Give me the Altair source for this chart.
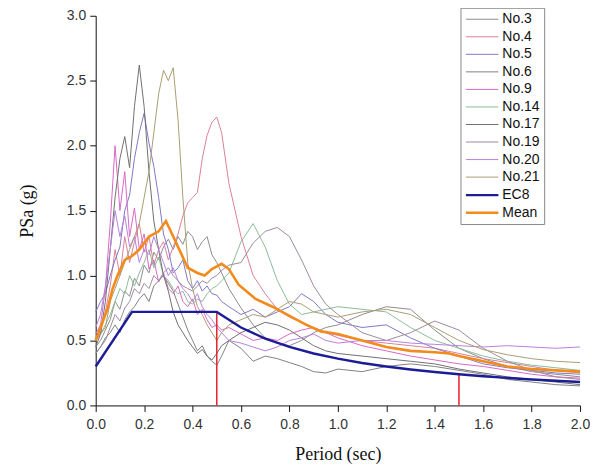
import altair as alt
import pandas as pd

# ---------------- data ----------------
PERIOD = [0.0, 0.02, 0.04, 0.06, 0.08, 0.10, 0.12, 0.14, 0.16, 0.18, 0.20, 0.22, 0.24,
          0.26, 0.28, 0.30, 0.32, 0.34, 0.36, 0.38, 0.40, 0.42, 0.44, 0.46, 0.48, 0.50,
          0.52, 0.55, 0.60, 0.65, 0.70, 0.75, 0.80, 0.85, 0.90, 0.95, 1.00,
          1.10, 1.20, 1.30, 1.40, 1.50, 1.60, 1.70, 1.80, 1.90, 2.00]

NO3 = [0.45, 0.50, 0.58, 0.66, 0.80, 0.74, 0.88, 0.84, 0.98, 0.92, 1.08, 1.02, 1.18, 1.12,
       1.22, 1.28, 1.20, 1.30, 1.24, 1.34, 1.30, 1.20, 1.26, 1.30, 1.16, 1.10,
       1.02, 0.90, 0.75, 0.62, 0.52, 0.48, 0.46, 0.50, 0.56, 0.60, 0.62,
       0.70, 0.76, 0.74, 0.58, 0.44, 0.36, 0.30, 0.26, 0.24, 0.22]
NO4 = [0.50, 0.56, 0.72, 0.92, 1.20, 1.00, 1.30, 1.10, 1.26, 1.40, 1.18, 1.30, 1.08, 1.20,
       1.26, 1.12, 1.22, 1.32, 1.46, 1.56, 1.60, 1.64, 1.90, 2.08, 2.18, 2.22,
       2.10, 1.71, 1.30, 1.00, 0.86, 0.74, 0.68, 0.64, 0.60, 0.56, 0.54,
       0.50, 0.48, 0.46, 0.44, 0.40, 0.36, 0.33, 0.30, 0.27, 0.25]
NO5 = [0.72, 0.80, 0.86, 1.00, 1.12, 1.22, 1.50, 1.62, 1.90, 2.10, 2.25, 2.02, 1.84, 1.60,
       1.32, 1.20, 1.02, 1.06, 1.12, 0.96, 0.90, 0.96, 0.88, 0.92, 0.86, 0.85,
       0.80, 0.76, 0.70, 0.74, 0.68, 0.72, 0.76, 0.86, 0.80, 0.70, 0.64,
       0.60, 0.62, 0.52, 0.44, 0.38, 0.32, 0.29, 0.27, 0.25, 0.24]
NO6 = [0.40, 0.45, 0.52, 0.56, 0.62, 0.56, 0.66, 0.72, 0.76, 0.82, 0.86, 0.80, 0.92, 0.96,
       1.00, 0.94, 0.88, 0.78, 0.68, 0.58, 0.50, 0.42, 0.46, 0.38, 0.34, 0.31,
       0.38, 0.50, 0.44, 0.34, 0.38, 0.36, 0.33, 0.30, 0.26, 0.25, 0.28,
       0.26, 0.30, 0.32, 0.30, 0.27, 0.24, 0.20, 0.18, 0.16, 0.15]
NO9 = [0.55, 0.62, 0.90, 1.40, 2.00, 1.50, 1.80, 1.30, 1.52, 1.20, 1.32, 1.05, 1.12, 0.95,
       1.02, 0.90, 0.86, 0.92, 0.80, 0.76, 0.82, 0.70, 0.74, 0.66, 0.60, 0.62,
       0.58, 0.60, 0.55, 0.50, 0.52, 0.50, 0.55, 0.58, 0.60, 0.56, 0.52,
       0.46, 0.42, 0.38, 0.35, 0.32, 0.30, 0.27, 0.24, 0.22, 0.21]
NO14 = [0.50, 0.55, 0.62, 0.70, 0.80, 0.90, 0.86, 1.00, 0.92, 1.02, 1.10, 1.20, 1.06, 1.14,
        1.00, 0.96, 0.90, 0.86, 0.88, 0.80, 0.78, 0.82, 0.80, 0.86, 0.90, 0.92,
        0.96, 1.02, 1.26, 1.40, 1.22, 0.96, 0.78, 0.70, 0.72, 0.74, 0.76,
        0.74, 0.72, 0.60, 0.50, 0.44, 0.38, 0.34, 0.31, 0.29, 0.27]
NO17 = [0.45, 0.55, 0.80, 1.20, 1.60, 1.90, 2.07, 1.83, 2.30, 2.62, 2.30, 1.80, 1.42, 1.20,
        1.00, 0.88, 0.72, 0.62, 0.56, 0.50, 0.45, 0.40, 0.43, 0.38, 0.35, 0.40,
        0.46, 0.50, 0.56, 0.60, 0.64, 0.62, 0.58, 0.52, 0.46, 0.42, 0.40,
        0.38, 0.36, 0.34, 0.32, 0.28, 0.25, 0.22, 0.20, 0.18, 0.16]
NO19 = [0.40, 0.45, 0.50, 0.60, 0.70, 0.65, 0.75, 0.80, 0.90, 0.86, 0.94, 0.90, 1.00, 0.96,
        1.02, 1.06, 1.00, 0.96, 0.92, 0.90, 0.88, 0.92, 0.96, 0.94, 0.98, 1.00,
        1.04, 1.08, 1.10, 1.25, 1.34, 1.37, 1.30, 1.12, 0.92, 0.78, 0.70,
        0.56, 0.50, 0.56, 0.65, 0.58, 0.44, 0.34, 0.27, 0.22, 0.20]
NO20 = [0.60, 0.70, 0.92, 1.20, 1.50, 1.30, 1.46, 1.22, 1.30, 1.10, 1.20, 1.16, 1.30, 1.20,
        1.10, 1.00, 1.06, 0.96, 0.90, 0.86, 0.80, 0.86, 0.76, 0.70, 0.66, 0.60,
        0.56, 0.50, 0.48, 0.45, 0.42, 0.45, 0.50, 0.52, 0.55, 0.50, 0.48,
        0.50, 0.50, 0.48, 0.47, 0.46, 0.45, 0.46, 0.45, 0.44, 0.45]
NO21 = [0.50, 0.55, 0.60, 0.80, 0.90, 1.00, 1.10, 1.20, 1.30, 1.40, 1.60, 1.80, 2.10, 2.40,
        2.58, 2.50, 2.60, 2.20, 1.60, 1.10, 0.90, 0.76, 0.70, 0.62, 0.56, 0.50,
        0.56, 0.62, 0.66, 0.70, 0.68, 0.74, 0.80, 0.78, 0.72, 0.70, 0.68,
        0.72, 0.74, 0.70, 0.60, 0.50, 0.43, 0.39, 0.36, 0.34, 0.33]

EC8_T = [0.0, 0.15, 0.5, 0.6, 0.7, 0.8, 0.9, 1.0, 1.1, 1.2, 1.3, 1.4, 1.5, 1.6, 1.7, 1.8, 1.9, 2.0]
EC8_V = [0.30, 0.72, 0.72, 0.60, 0.514, 0.45, 0.40, 0.36, 0.327, 0.30, 0.277, 0.257, 0.24,
         0.225, 0.212, 0.20, 0.19, 0.18]

MEAN_T = [0.0, 0.02, 0.05, 0.07, 0.09, 0.12, 0.15, 0.18, 0.22, 0.26, 0.29, 0.32, 0.35, 0.38,
          0.42, 0.45, 0.48, 0.52, 0.55, 0.59, 0.66, 0.73, 0.80, 0.87, 0.93, 1.0, 1.1, 1.2,
          1.3, 1.4, 1.46, 1.5, 1.6, 1.7, 1.8, 1.9, 2.0]
MEAN_V = [0.50, 0.60, 0.75, 0.90, 1.00, 1.12, 1.15, 1.20, 1.30, 1.34, 1.42, 1.30, 1.18, 1.06,
          1.02, 1.00, 1.05, 1.09, 1.05, 0.93, 0.82, 0.76, 0.69, 0.62, 0.57, 0.55, 0.50, 0.45,
          0.42, 0.41, 0.40, 0.38, 0.34, 0.30, 0.28, 0.27, 0.26]

RULE_T = [0.5, 1.5]
RULE_V = [0.72, 0.24]

SERIES = ["No.3", "No.4", "No.5", "No.6", "No.9", "No.14", "No.17", "No.19", "No.20",
          "No.21", "EC8", "Mean"]
COLORS = ["#8e8e8e", "#d98298", "#8078c8", "#828282", "#d868c8", "#8cbc98", "#707070",
          "#a08a9c", "#b882dc", "#aa9e72", "#1c1c96", "#f28a1c"]
WIDTHS = [1, 1, 1, 1, 1, 1, 1, 1, 1, 1, 2.4, 2.6]

X_TICKS = [round(i * 0.1, 1) for i in range(21)]
Y_TICKS = [i * 0.25 for i in range(13)]

# ---------------- tables ----------------
records = [NO3, NO4, NO5, NO6, NO9, NO14, NO17, NO19, NO20, NO21]
rows = []
for name, vals in zip(SERIES[:10], records):
    for t, v in zip(PERIOD, vals):
        rows.append({"series": name, "T": t, "v": v})
rec_df = pd.DataFrame(rows)

ref_rows = [{"series": "EC8", "T": t, "v": v} for t, v in zip(EC8_T, EC8_V)]
ref_rows += [{"series": "Mean", "T": t, "v": v} for t, v in zip(MEAN_T, MEAN_V)]
ref_df = pd.DataFrame(ref_rows)

rule_df = pd.DataFrame({"T": RULE_T, "v": RULE_V})

# ---------------- encodings ----------------
x_axis = alt.Axis(
    values=X_TICKS,
    labelExpr="abs(datum.value*5 - round(datum.value*5)) < 0.001 ? format(datum.value, '.1f') : ''",
    tickSize={"condition": {"test": "abs(datum.value*5 - round(datum.value*5)) < 0.001", "value": 6}, "value": 3},
    grid=False, domainColor="#111", tickColor="#111", labelColor="#333",
    labelFont="Liberation Sans", labelFontSize=14, labelPadding=6,
    titleFont="Liberation Serif", titleFontSize=18, titleFontWeight="normal",
    titleColor="#111", titlePadding=14, labelFlush=False,
)
y_axis = alt.Axis(
    values=Y_TICKS,
    labelExpr="abs(datum.value*2 - round(datum.value*2)) < 0.001 ? format(datum.value, '.1f') : ''",
    tickSize={"condition": {"test": "abs(datum.value*2 - round(datum.value*2)) < 0.001", "value": 6}, "value": 3},
    grid=False, domainColor="#111", tickColor="#111", labelColor="#333",
    labelFont="Liberation Sans", labelFontSize=14, labelPadding=4,
    titleFont="Liberation Serif", titleFontSize=18, titleFontWeight="normal",
    titleColor="#111", titlePadding=30, labelFlush=False,
)

xs = alt.X("T:Q", scale=alt.Scale(domain=[0, 2], nice=False), axis=x_axis, title="Period (sec)")
ys = alt.Y("v:Q", scale=alt.Scale(domain=[0, 3], nice=False), axis=y_axis, title="PSa (g)")
color = alt.Color("series:N", scale=alt.Scale(domain=SERIES, range=COLORS), title=None, sort=SERIES)
width_enc = alt.StrokeWidth("series:N", scale=alt.Scale(type="ordinal", domain=SERIES, range=WIDTHS),
                            title=None, sort=SERIES)

rec_lines = alt.Chart(rec_df).mark_line().encode(
    x=xs, y=ys, color=color, strokeWidth=width_enc, detail="series:N"
)
rules = alt.Chart(rule_df).mark_rule(color="#e8202a", strokeWidth=1.5).encode(
    x=alt.X("T:Q"), y=alt.Y("v:Q"), y2=alt.datum(0)
)
ref_lines = alt.Chart(ref_df).mark_line().encode(
    x=xs, y=ys, color=color, strokeWidth=width_enc, detail="series:N"
)

chart = alt.layer(rec_lines, rules, ref_lines).properties(
    width=486, height=391,
    autosize=alt.AutoSizeParams(type="none"),
    padding={"left": 88, "top": 7, "right": 15, "bottom": 62},
).configure_view(stroke=None).configure_legend(
    orient="none", legendX=366, legendY=-8,
    strokeColor="#8a8a8a", fillColor="white", padding=4,
    labelFont="Liberation Sans", labelFontSize=14, labelColor="#111",
    symbolType="M-1,0H4", symbolSize=170, labelOffset=22, rowPadding=2.6,
)

chart.save("out.html", embed_options={"renderer": "svg", "actions": False})
